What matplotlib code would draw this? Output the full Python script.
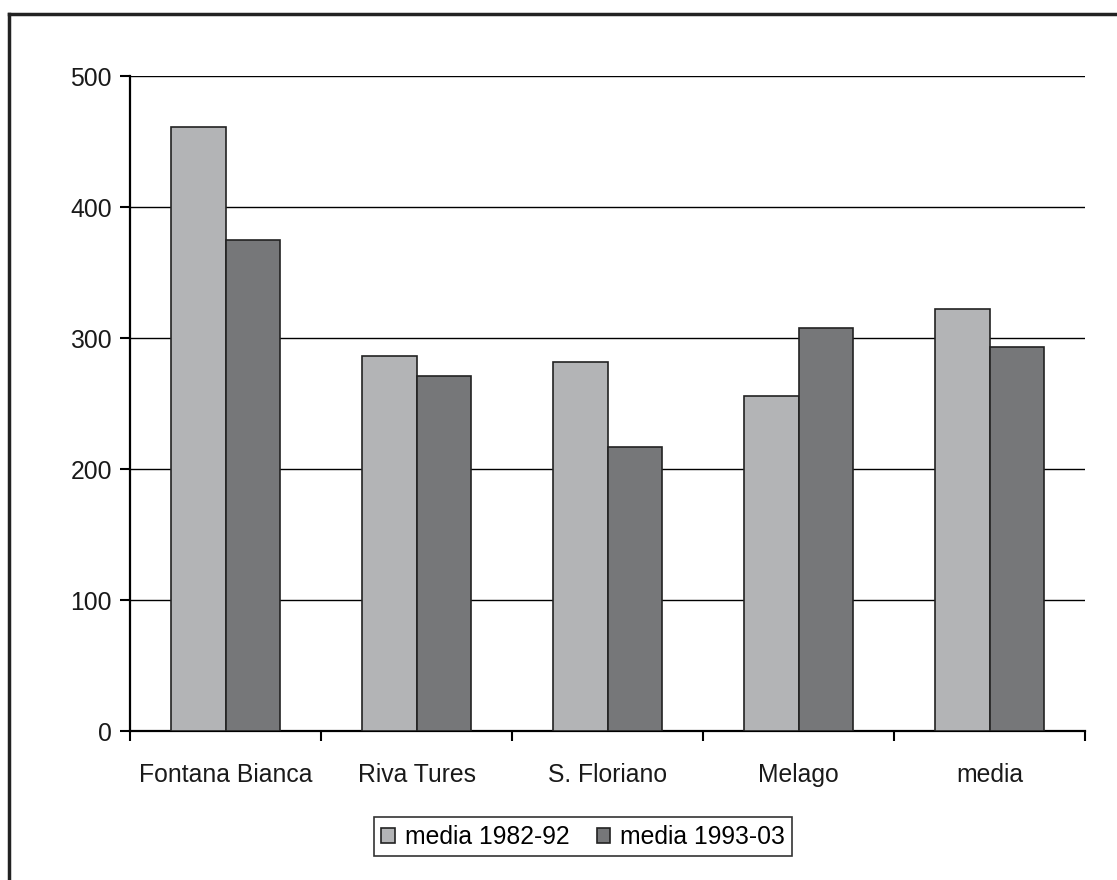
import numpy as np
import matplotlib
matplotlib.use("Agg")
import matplotlib.pyplot as plt
from matplotlib.lines import Line2D

# data
stations = ["Fontana Bianca", "Riva Tures", "S. Floriano", "Melago", "media"]
media_1982_92 = [461, 286, 282, 256, 322]
media_1993_03 = [375, 271, 217, 308, 293]
labels = ["media 1982-92", "media 1993-03"]
yticks = [0, 100, 200, 300, 400, 500]

plt.rcParams["font.family"] = ["Liberation Sans", "DejaVu Sans"]
FS = 17.8

fig = plt.figure(figsize=(11.17, 8.8), dpi=100)
ax = fig.add_axes([0.1164, 0.1693, 0.8550, 0.7443])

x = np.arange(len(stations))
w = 0.285
ax.bar(x - w / 2, media_1982_92, w, color="#b3b4b6", edgecolor="#222222",
       linewidth=1.2, label=labels[0], zorder=3)
ax.bar(x + w / 2, media_1993_03, w, color="#767779", edgecolor="#222222",
       linewidth=1.2, label=labels[1], zorder=3)

ax.set_xlim(-0.5, len(stations) - 0.5)
ax.set_ylim(0, 500)
ax.set_yticks(yticks)
ax.yaxis.grid(True, color="black", linewidth=1.0, zorder=0)
ax.set_axisbelow(True)

# category boundary ticks on x axis
ax.set_xticks(np.arange(len(stations) + 1) - 0.5)
ax.set_xticklabels([])
ax.set_xticks(x, minor=True)
ax.set_xticklabels(stations, minor=True, fontsize=FS, color="#1a1a1a")
ax.tick_params(axis="x", which="minor", length=0, pad=23)
ax.tick_params(axis="x", which="major", length=7, width=1.5, direction="out")
ax.tick_params(axis="y", length=7, width=1.5, direction="out", labelsize=FS,
               labelcolor="#1a1a1a", pad=6)

for s in ["top", "right"]:
    ax.spines[s].set_visible(False)
for s in ["left", "bottom"]:
    ax.spines[s].set_linewidth(1.6)

leg = fig.legend(loc="center", bbox_to_anchor=(0.522, 0.049), ncol=2,
                 fontsize=FS, frameon=True, fancybox=False, edgecolor="black",
                 handlelength=0.55, handleheight=0.55, handletextpad=0.4,
                 columnspacing=1.1, borderpad=0.3, borderaxespad=0)
leg.get_frame().set_linewidth(1.2)

# outer chart border (left and top edges)
fig.add_artist(Line2D([9 / 1117, 9 / 1117], [0, 1 - 14 / 880], color="#222222", linewidth=2.5))
fig.add_artist(Line2D([9 / 1117, 1], [1 - 14 / 880, 1 - 14 / 880], color="#222222", linewidth=2.5))

fig.savefig("out.png", dpi=100)
